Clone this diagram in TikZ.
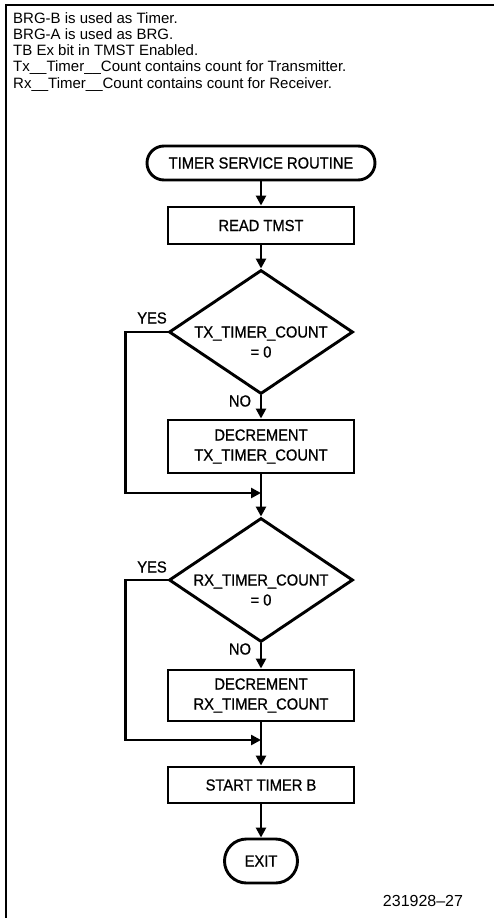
\documentclass[tikz,border=0pt]{standalone}
\usepackage{fontspec}
\setmainfont{Liberation Sans}
\newfontfamily\chartfont[FakeStretch=0.92, FakeBold=0.8]{Liberation Sans}
\usetikzlibrary{arrows.meta, shapes.geometric}

\begin{document}
\begin{tikzpicture}[
  x=1pt, y=-1pt,
  chart/.style={font=\chartfont\fontsize{16}{20}\selectfont, align=center},
  box/.style={chart, draw, line width=2.9pt, inner sep=0pt,
              minimum width=186pt, minimum height=37pt},
  term/.style={box, rounded corners=17pt, minimum width=228pt, minimum height=34pt},
  test/.style={draw, diamond, line width=2.9pt, inner sep=0pt,
               minimum width=184pt, minimum height=124pt},
  note/.style={font=\fontsize{15}{16.3}\selectfont, align=left, inner sep=0pt},
  arr/.style={-{Triangle[length=10pt, width=10pt]}, line width=2.6pt},
  flow/.style={line width=2.6pt}
]
\useasboundingbox (0,0) rectangle (494,918);
\draw[line width=1.2pt] (494,5) -- (6,5) -- (6,918);

\node[note, anchor=north west] (notes) at (13,12)
  {BRG-B is used as Timer.\\
   BRG-A is used as BRG.\\
   TB Ex bit in TMST Enabled.\\
   Tx\_\_Timer\_\_Count contains count for Transmitter.\\
   Rx\_\_Timer\_\_Count contains count for Receiver.};

\node[term] (start) at (261,163) {TIMER SERVICE ROUTINE};
\node[box] (read) at (261,225.5) {READ TMST};
\node[test, label={[chart, yshift=-10pt]center:{TX\_TIMER\_COUNT\\= 0}}] (txtest) at (261,332) {};
\node[box, minimum height=53pt] (txdec) at (261,446.5) {DECREMENT\\TX\_TIMER\_COUNT};
\coordinate (txjoin) at (261,493);
\node[test, label={[chart, yshift=-10pt]center:{RX\_TIMER\_COUNT\\= 0}}] (rxtest) at (261,580) {};
\node[box, minimum height=51pt] (rxdec) at (261,695.5) {DECREMENT\\RX\_TIMER\_COUNT};
\coordinate (rxjoin) at (261,740);
\node[box, minimum height=36pt] (startb) at (261,785) {START TIMER B};
\node[term, rounded corners=22pt, minimum width=73pt, minimum height=44pt] (exit) at (261,861) {EXIT};

\node[chart] (txyes) at (152,318) {YES};
\node[chart] (txno) at (240,401) {NO};
\node[chart] (rxyes) at (152,567) {YES};
\node[chart] (rxno) at (240,649) {NO};

\node[font=\fontsize{16}{18}\selectfont] (fignum) at (423,901) {231928--27};

\draw[arr] (start) -- (read);
\draw[arr] (read) -- (txtest);
\draw[arr] (txtest) -- (txdec);
\draw[arr] (txdec) -- (rxtest);
\draw[arr] (txtest.west) -- ++(-42,0) |- (txjoin);
\draw[arr] (rxtest) -- (rxdec);
\draw[arr] (rxdec) -- (startb);
\draw[arr] (rxtest.west) -- ++(-42,0) |- (rxjoin);
\draw[arr] (startb) -- (exit);
\end{tikzpicture}
\end{document}
